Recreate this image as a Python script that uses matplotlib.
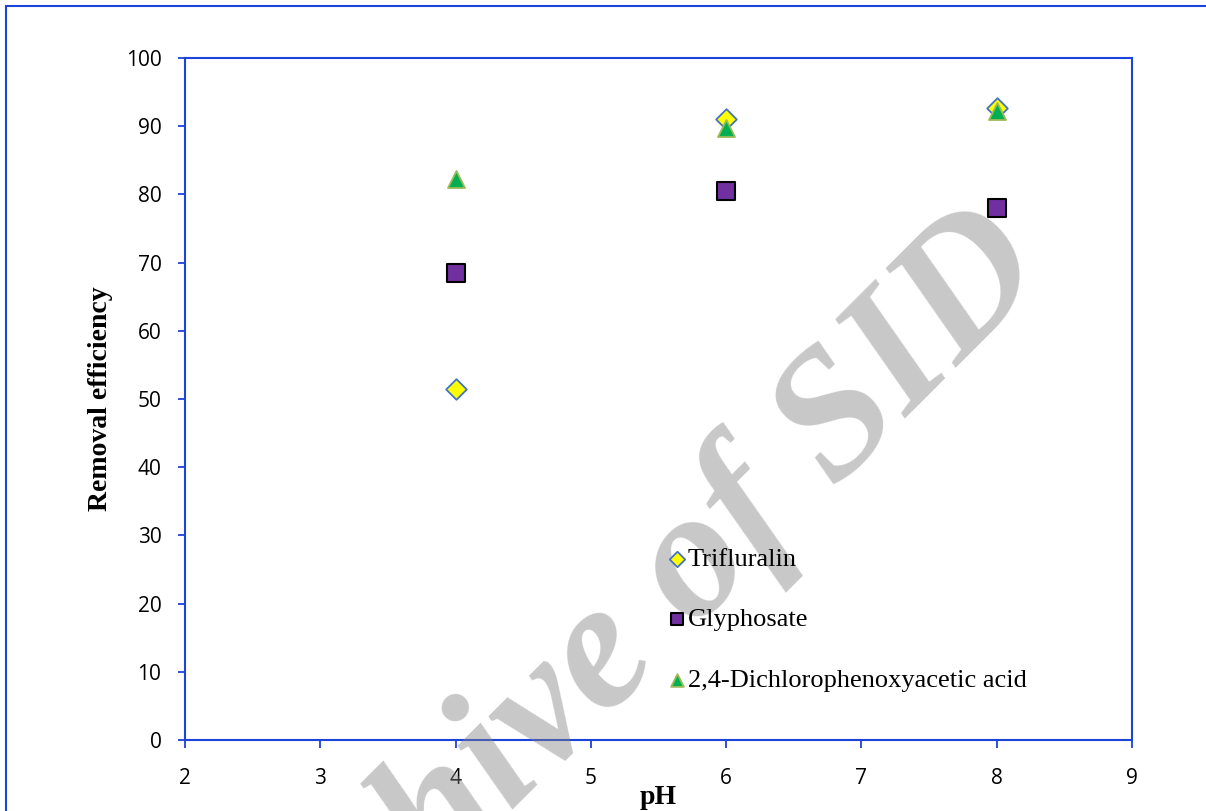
import matplotlib.pyplot as plt
from matplotlib.patches import Rectangle

# pH values and removal efficiency (%)
ph = [4, 6, 8]
trifluralin = [51.5, 91.0, 92.7]
glyphosate = [68.5, 80.5, 78.0]
dichloro = [82.3, 89.8, 92.2]

names = ["Trifluralin", "Glyphosate", "2,4-Dichlorophenoxyacetic acid"]
xticks = [2, 3, 4, 5, 6, 7, 8, 9]
yticks = [0, 10, 20, 30, 40, 50, 60, 70, 80, 90, 100]

blue = '#1c44d8'

fig = plt.figure(figsize=(12.06, 8.11), dpi=100)
ax = fig.add_axes([0.1534, 0.0875, 0.7852, 0.841])

ax.scatter(ph, trifluralin, marker='D', s=110, c='#ffff00', edgecolors='#4472c4',
           linewidths=1.3, label=names[0], zorder=3)
ax.scatter(ph, glyphosate, marker='s', s=150, c='#7030a0', edgecolors='black',
           linewidths=1.5, label=names[1], zorder=3)
ax.scatter(ph, dichloro, marker='^', s=150, c='#00b050', edgecolors='#9bbb59',
           linewidths=1.3, label=names[2], zorder=4)

ax.set_xlim(2, 9)
ax.set_ylim(0, 100)
ax.set_xticks(xticks)
ax.set_yticks(yticks)
for s in ax.spines.values():
    s.set_color(blue)
    s.set_linewidth(1.5)
ax.tick_params(axis='both', colors=blue, labelcolor='black', labelsize=15,
               width=1.3, direction='out')
ax.tick_params(axis='x', length=6, pad=14)
ax.tick_params(axis='y', length=5, pad=12)
for lab in ax.get_xticklabels() + ax.get_yticklabels():
    lab.set_fontfamily('Open Sans')

ax.set_xlabel('pH', family='Liberation Serif', fontweight='bold', fontsize=20, labelpad=-3)
ax.set_ylabel('Removal efficiency', family='Liberation Serif', fontweight='bold',
              fontsize=20, labelpad=9)

handles, labels = ax.get_legend_handles_labels()
fig.legend(handles, labels, loc='upper left', bbox_to_anchor=(0.50, 0.298),
           bbox_transform=ax.transAxes, frameon=False,
           prop={'family': 'Liberation Serif', 'size': 19},
           handlelength=0.6, handletextpad=0.1, labelspacing=1.4,
           markerscale=0.75, borderaxespad=0).set_zorder(11)

# outer chart-area border (cropped at right and bottom)
fig.patches.append(Rectangle((6 / 1206, -0.1), 1.2, 1.1 - 6 / 811,
                             transform=fig.transFigure, fill=False,
                             edgecolor=blue, linewidth=1.5))

# watermark (only the visible part)
fig.text(0.871, 0.663, 'hive of SID', family='Liberation Serif', fontweight='bold',
         fontstyle='italic', fontsize=132, color='0.5', alpha=0.43,
         rotation=45, rotation_mode='anchor', ha='right', va='baseline', zorder=10)

fig.savefig('out.png', dpi=100)
